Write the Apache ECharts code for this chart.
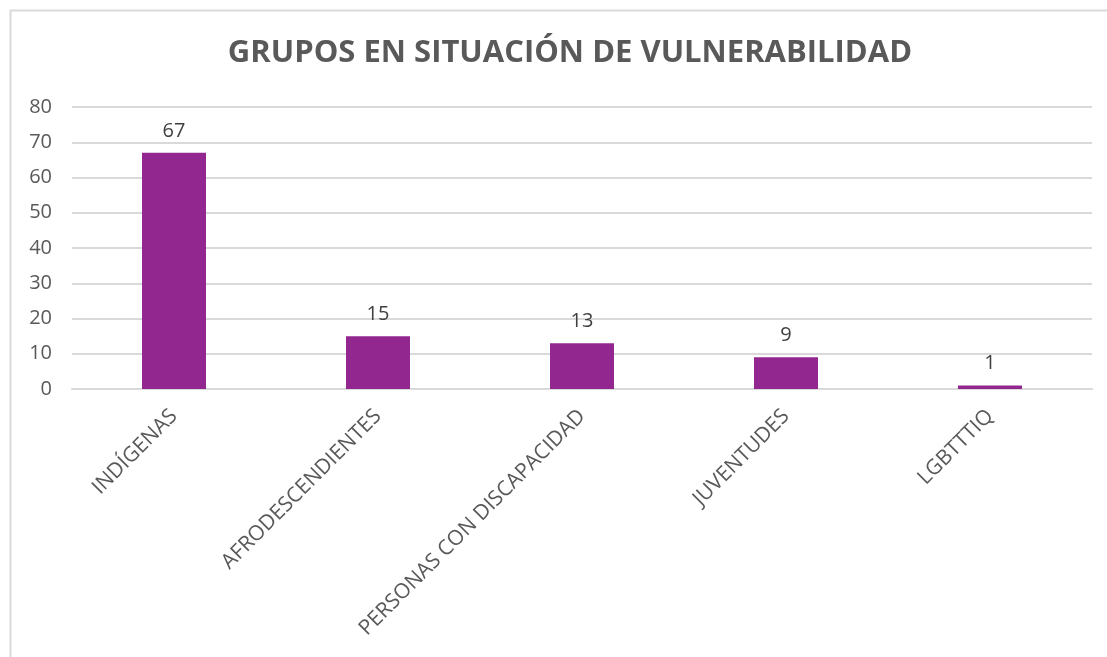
<!DOCTYPE html>
<html>
<head>
<meta charset="utf-8">
<script src="https://cdn.jsdelivr.net/npm/echarts@6/dist/echarts.min.js"></script>
<style>
  html, body { margin: 0; padding: 0; background: #fff; }
  #chart { width: 1107px; height: 657px; }
</style>
</head>
<body>
<div id="chart"></div>
<script>
var categories = ['INDÍGENAS', 'AFRODESCENDIENTES', 'PERSONAS CON DISCAPACIDAD', 'JUVENTUDES', 'LGBTTTIQ'];
var values = [67, 15, 13, 9, 1];
var yMin = 0, yMax = 80, yStep = 10;

var myChart = echarts.init(document.getElementById('chart'));

var option = {
  animation: false,
  backgroundColor: '#ffffff',
  graphic: [
    {
      type: 'rect',
      left: 8, top: 8,
      shape: { width: 1200, height: 700 },
      style: { fill: 'none', stroke: '#d9d9d9', lineWidth: 2 },
      silent: true
    }
  ],
  title: {
    text: 'GRUPOS EN SITUACIÓN DE VULNERABILIDAD',
    left: 565, top: 33,
    textAlign: 'center',
    textStyle: {
      color: '#595959',
      fontSize: 31,
      fontWeight: 'bold',
      fontFamily: 'Open Sans'
    }
  },
  grid: {
    left: 72, right: 15, top: 107, bottom: 268
  },
  xAxis: {
    type: 'category',
    data: categories,
    axisTick: { show: false },
    axisLine: { lineStyle: { color: '#d9d9d9', width: 2 } },
    axisLabel: {
      rotate: 45,
      interval: 0,
      margin: 24,
      color: '#595959',
      fontSize: 21,
      fontFamily: 'Open Sans'
    }
  },
  yAxis: {
    type: 'value',
    min: yMin, max: yMax, interval: yStep,
    axisLine: { show: false },
    axisTick: { show: false },
    splitLine: { lineStyle: { color: '#d9d9d9', width: 2 } },
    axisLabel: {
      color: '#595959',
      fontSize: 20,
      margin: 20,
      fontFamily: 'Open Sans'
    }
  },
  series: [
    {
      type: 'bar',
      data: values,
      barWidth: 64,
      itemStyle: { color: '#92278f' },
      label: {
        show: true,
        position: 'top',
        distance: 12,
        color: '#404040',
        fontSize: 20,
        fontFamily: 'Open Sans'
      }
    }
  ]
};

myChart.setOption(option);
</script>
</body>
</html>
